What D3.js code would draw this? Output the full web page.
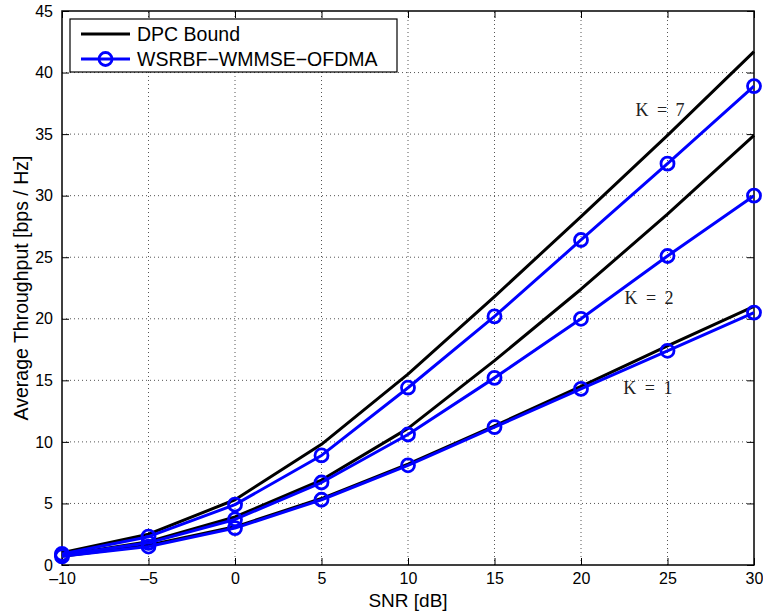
<!DOCTYPE html>
<html>
<head>
<meta charset="utf-8">
<script src="https://cdn.jsdelivr.net/npm/d3@7"></script>
<style>
  html, body { margin: 0; padding: 0; background: #fff; }
  svg { display: block; }
</style>
</head>
<body>
<svg id="chart" width="763" height="613"></svg>
<script>
// SNR points (dB)
const snr = [-10, -5, 0, 5, 10, 15, 20, 25, 30];

// DPC bound throughput per user count
const dpcK7 = [1.0, 2.5, 5.3, 9.8, 15.5, 21.8, 28.3, 34.9, 41.7];
const dpcK2 = [0.8, 1.9, 3.9, 6.9, 11.1, 16.6, 22.4, 28.5, 34.9];
const dpcK1 = [0.7, 1.6, 3.1, 5.4, 8.2, 11.3, 14.5, 17.8, 21.0];

// WSRBF-WMMSE-OFDMA throughput per user count
const wsrK7 = [0.9, 2.3, 4.9, 8.9, 14.4, 20.2, 26.4, 32.6, 38.9];
const wsrK2 = [0.8, 1.8, 3.7, 6.7, 10.6, 15.2, 20.0, 25.1, 30.0];
const wsrK1 = [0.7, 1.5, 3.0, 5.3, 8.1, 11.2, 14.3, 17.4, 20.5];

const xTicks = [-10, -5, 0, 5, 10, 15, 20, 25, 30];
const yTicks = [0, 5, 10, 15, 20, 25, 30, 35, 40, 45];

const curveLabels = [
  { text: "K = 7", x: 24.57, y: 36.96 },
  { text: "K = 2", x: 23.93, y: 21.69 },
  { text: "K = 1", x: 23.87, y: 14.38 }
];

const legendItems = [
  { label: "DPC Bound", color: "#000000", marker: false },
  { label: "WSRBF\u2212WMMSE\u2212OFDMA", color: "#0000ff", marker: true }
];

const svg = d3.select("#chart");
const margin = { left: 62, right: 9, top: 11, bottom: 48 };
const W = 763, H = 613;
const x = d3.scaleLinear().domain([-10, 30]).range([margin.left, W - margin.right]);
const y = d3.scaleLinear().domain([0, 45]).range([H - margin.bottom, margin.top]);

const font = "'Liberation Sans', Arial, Helvetica, sans-serif";

// dotted grid
const grid = svg.append("g").attr("stroke", "#555").attr("stroke-width", 1)
  .attr("stroke-dasharray", "1,3");
xTicks.slice(1, -1).forEach(t => {
  grid.append("line").attr("x1", x(t)).attr("x2", x(t))
    .attr("y1", y(0)).attr("y2", y(45));
});
yTicks.slice(1, -1).forEach(t => {
  grid.append("line").attr("x1", x(-10)).attr("x2", x(30))
    .attr("y1", y(t)).attr("y2", y(t));
});

// axes with inward ticks on all four sides
const tickLen = 7;
svg.append("g").attr("transform", `translate(0,${y(0)})`)
  .call(d3.axisBottom(x).tickValues(xTicks).tickSizeInner(-tickLen).tickSizeOuter(0)
    .tickPadding(8).tickFormat(d => d < 0 ? "\u2013" + Math.abs(d) : d));
svg.append("g").attr("transform", `translate(0,${y(45)})`)
  .call(d3.axisTop(x).tickValues(xTicks).tickSizeInner(-tickLen).tickSizeOuter(0).tickFormat(""));
svg.append("g").attr("transform", `translate(${x(-10)},0)`)
  .call(d3.axisLeft(y).tickValues(yTicks).tickSizeInner(-tickLen).tickSizeOuter(0).tickPadding(9));
svg.append("g").attr("transform", `translate(${x(30)},0)`)
  .call(d3.axisRight(y).tickValues(yTicks).tickSizeInner(-tickLen).tickSizeOuter(0).tickFormat(""));

svg.selectAll(".domain").remove();
svg.selectAll(".tick line").attr("stroke", "#000").attr("stroke-width", 1);
svg.selectAll(".tick text").attr("font-family", font).attr("font-size", 16).attr("fill", "#000");

// plot box
svg.append("rect").attr("x", x(-10)).attr("y", y(45))
  .attr("width", x(30) - x(-10)).attr("height", y(0) - y(45))
  .attr("fill", "none").attr("stroke", "#000").attr("stroke-width", 1.5);

const line = d3.line().x((d, i) => x(snr[i])).y(d => y(d));

const series = [
  { data: dpcK7, color: "#000", marker: false },
  { data: dpcK2, color: "#000", marker: false },
  { data: dpcK1, color: "#000", marker: false },
  { data: wsrK7, color: "#0000ff", marker: true },
  { data: wsrK2, color: "#0000ff", marker: true },
  { data: wsrK1, color: "#0000ff", marker: true }
];

const plot = svg.append("g");
series.forEach(s => {
  plot.append("path").datum(s.data).attr("d", line)
    .attr("fill", "none").attr("stroke", s.color).attr("stroke-width", 3)
    .attr("stroke-linejoin", "round");
});
series.filter(s => s.marker).forEach(s => {
  plot.selectAll(null).data(s.data).enter().append("circle")
    .attr("cx", (d, i) => x(snr[i])).attr("cy", d => y(d)).attr("r", 6.5)
    .attr("fill", "none").attr("stroke", s.color).attr("stroke-width", 2.8);
});

// curve annotations
curveLabels.forEach(l => {
  svg.append("text").attr("x", x(l.x)).attr("y", y(l.y))
    .attr("text-anchor", "middle").attr("dominant-baseline", "central")
    .attr("font-family", "'Liberation Serif', 'DejaVu Serif', serif")
    .attr("font-size", 18).attr("word-spacing", 4).attr("fill", "#222").text(l.text);
});

// axis titles
svg.append("text").attr("x", (x(-10) + x(30)) / 2).attr("y", 607)
  .attr("text-anchor", "middle").attr("font-family", font).attr("font-size", 19)
  .text("SNR [dB]");
svg.append("text").attr("transform", `translate(28,${(y(0) + y(45)) / 2}) rotate(-90)`)
  .attr("text-anchor", "middle").attr("font-family", font).attr("font-size", 19.5)
  .text("Average Throughput [bps / Hz]");

// legend
const lg = svg.append("g");
lg.append("rect").attr("x", 70).attr("y", 19).attr("width", 327).attr("height", 53)
  .attr("fill", "#fff").attr("stroke", "#000").attr("stroke-width", 1.2);
legendItems.forEach((it, i) => {
  const cy = 34 + i * 25;
  lg.append("line").attr("x1", 81).attr("x2", 130).attr("y1", cy).attr("y2", cy)
    .attr("stroke", it.color).attr("stroke-width", 3);
  if (it.marker) {
    lg.append("circle").attr("cx", 105.5).attr("cy", cy).attr("r", 6.5)
      .attr("fill", "none").attr("stroke", it.color).attr("stroke-width", 2.8);
  }
  lg.append("text").attr("x", 137).attr("y", cy).attr("dominant-baseline", "central")
    .attr("font-family", font).attr("font-size", 19.5).text(it.label);
});
</script>
</body>
</html>
